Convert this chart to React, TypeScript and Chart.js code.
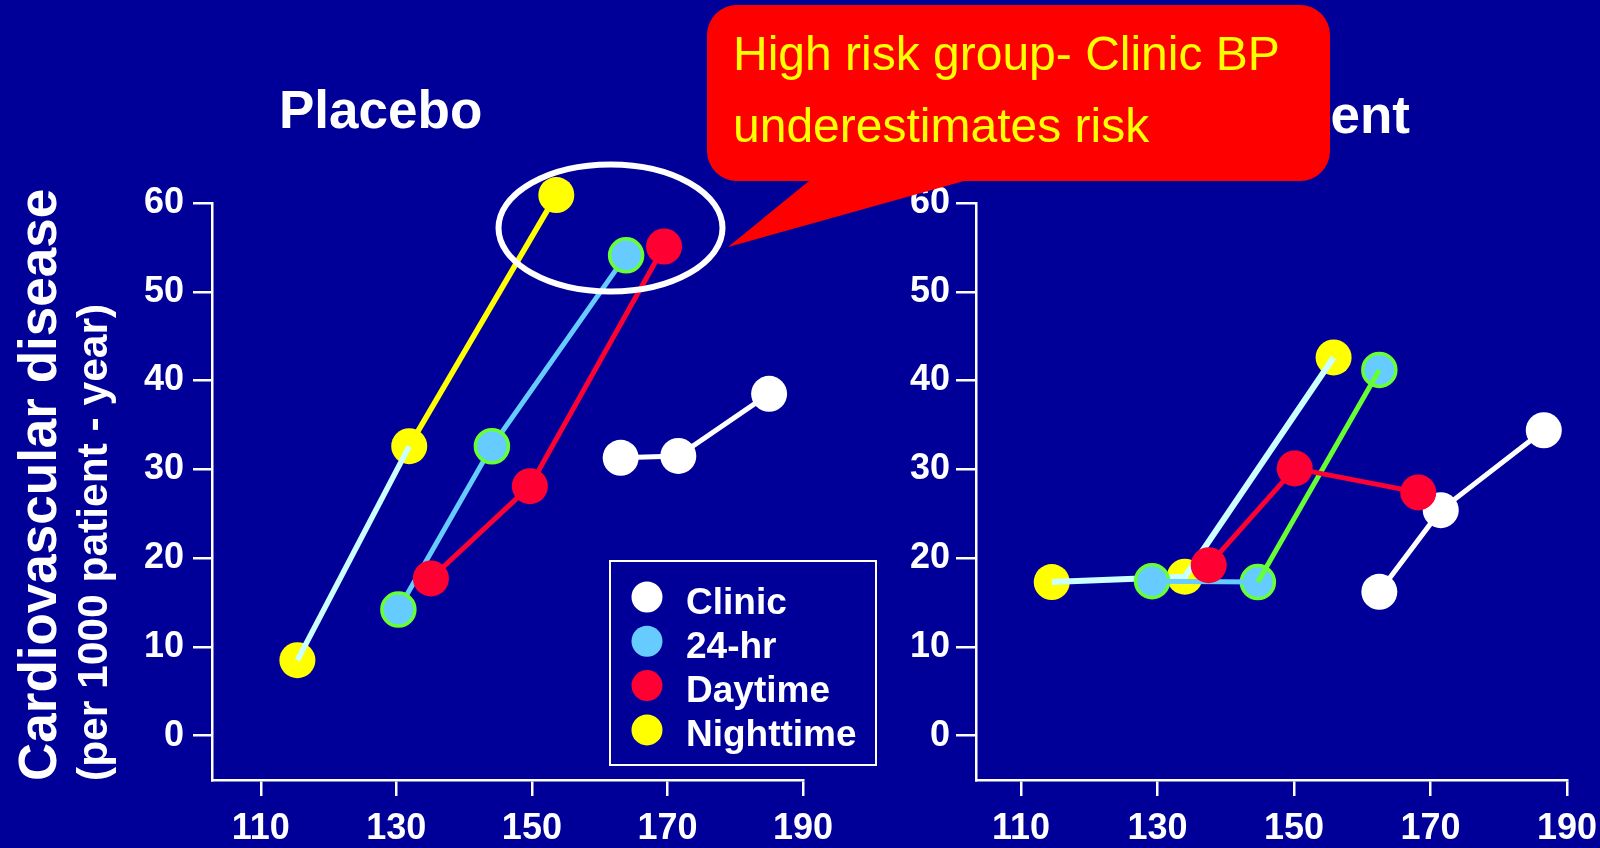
import { useEffect, useRef } from "react";
import { Chart, registerables } from "chart.js";

Chart.register(...registerables);

const FONT = "'Liberation Sans', Arial, Helvetica, sans-serif";
const BG = "#000099";

// Axis ticks (systolic pressure, mmHg / events per 1000 patient-years)
const xTickValues = [110, 130, 150, 170, 190];
const yTickValues = [0, 10, 20, 30, 40, 50, 60];

// Legend entries
const seriesNames = ["Clinic", "24-hr", "Daytime", "Nighttime"];
const seriesColors = ["#ffffff", "#66ccff", "#ff0033", "#ffff00"];

// Placebo group
const placeboClinicX = [163.1, 171.6, 185.0];
const placeboClinicY = [31.3, 31.5, 38.5];
const placebo24hX = [130.3, 144.1, 163.9];
const placebo24hY = [14.2, 32.6, 54.1];
const placeboDayX = [135.1, 149.7, 169.5];
const placeboDayY = [17.7, 28.1, 55.1];
const placeboNightX = [115.4, 131.9, 153.6];
const placeboNightY = [8.5, 32.6, 60.9];

// Active treatment group
const activeClinicX = [162.5, 171.5, 186.6];
const activeClinicY = [16.2, 25.4, 34.4];
const active24hX = [129.2, 144.7, 162.5];
const active24hY = [17.4, 17.3, 41.2];
const activeDayX = [137.5, 150.1, 168.2];
const activeDayY = [19.2, 30.1, 27.4];
const activeNightX = [114.5, 134.0, 155.8];
const activeNightY = [17.3, 17.9, 42.6];

// Per-segment line colours
const placeboNightSegments = ["#ccffff", "#ffff00"];
const placebo24hSegments = ["#66ccff", "#66ccff"];
const activeNightSegments = ["#ccffff", "#ccffff"];
const active24hSegments = ["#66ccff", "#66ff33"];

const GREEN_RING = "#66ff33";

type Pt = { x: number; y: number };
const toPoints = (xs: number[], ys: number[]): Pt[] => xs.map((x, i) => ({ x, y: ys[i] }));

function lineSet(xs: number[], ys: number[], segColors: string[], width: number) {
  return {
    data: toPoints(xs, ys),
    showLine: true,
    pointRadius: 0,
    pointHoverRadius: 0,
    borderColor: segColors[0],
    borderWidth: width,
    segment: { borderColor: (c: any) => segColors[c.p0DataIndex] },
    clip: false as any,
  };
}

function pointSet(xs: number[], ys: number[], fill: string, ring: string | null) {
  return {
    data: toPoints(xs, ys),
    showLine: false,
    pointRadius: ring ? 16.5 : 18,
    pointHoverRadius: ring ? 16.5 : 18,
    pointBackgroundColor: fill,
    pointBorderColor: ring || fill,
    pointBorderWidth: ring ? 3.5 : 0,
    clip: false as any,
  };
}

type PanelSpec = {
  datasets: any[];
  xMin: number;
  yAxisWidth: number;
  rightPad: number;
  yTickLength: number;
  yLabelPad: number;
};

function buildConfig(p: PanelSpec): any {
  const tickFont = { family: FONT, size: 36, weight: "bold" as const };
  return {
    type: "scatter",
    data: { datasets: p.datasets },
    options: {
      responsive: false,
      maintainAspectRatio: false,
      animation: false,
      events: [],
      layout: { padding: { left: 0, top: 203, right: p.rightPad, bottom: 0 } },
      plugins: { legend: { display: false }, tooltip: { enabled: false } },
      scales: {
        x: {
          type: "linear",
          min: p.xMin,
          max: 190,
          afterBuildTicks: (s: any) => {
            s.ticks = xTickValues.map((v) => ({ value: v }));
          },
          afterFit: (s: any) => {
            s.height = 68;
            s.paddingLeft = 0;
            s.paddingRight = 0;
          },
          grid: { drawOnChartArea: false, drawTicks: true, tickLength: 16, color: "#ffffff", lineWidth: 2.5 },
          border: { display: true, color: "#ffffff", width: 2.5 },
          ticks: { color: "#ffffff", font: tickFont, padding: 11, autoSkip: false, maxRotation: 0 },
        },
        y: {
          type: "linear",
          min: -5,
          max: 60,
          afterBuildTicks: (s: any) => {
            s.ticks = yTickValues.map((v) => ({ value: v }));
          },
          afterFit: (s: any) => {
            s.width = p.yAxisWidth;
            s.paddingTop = 0;
            s.paddingBottom = 0;
          },
          grid: { drawOnChartArea: false, drawTicks: true, tickLength: p.yTickLength, color: "#ffffff", lineWidth: 2.5 },
          border: { display: true, color: "#ffffff", width: 2.5 },
          ticks: { color: "#ffffff", font: tickFont, padding: p.yLabelPad, autoSkip: false },
        },
      },
    },
  };
}

// Earlier entries are painted on top
const placeboPanel: PanelSpec = {
  datasets: [
    pointSet(placeboDayX, placeboDayY, seriesColors[2], null),
    lineSet(placeboDayX, placeboDayY, [seriesColors[2], seriesColors[2]], 5),
    pointSet(placebo24hX, placebo24hY, seriesColors[1], GREEN_RING),
    lineSet(placebo24hX, placebo24hY, placebo24hSegments, 5),
    lineSet(placeboNightX, placeboNightY, placeboNightSegments, 5.5),
    pointSet(placeboNightX, placeboNightY, seriesColors[3], null),
    pointSet(placeboClinicX, placeboClinicY, seriesColors[0], null),
    lineSet(placeboClinicX, placeboClinicY, [seriesColors[0], seriesColors[0]], 5),
  ],
  xMin: 102.8,
  yAxisWidth: 212,
  rightPad: 77,
  yTickLength: 19,
  yLabelPad: 9,
};

const activePanel: PanelSpec = {
  datasets: [
    pointSet(activeDayX, activeDayY, seriesColors[2], null),
    lineSet(activeDayX, activeDayY, [seriesColors[2], seriesColors[2]], 5),
    lineSet(active24hX, active24hY, active24hSegments, 5),
    pointSet(active24hX, active24hY, seriesColors[1], GREEN_RING),
    lineSet(activeNightX, activeNightY, activeNightSegments, 6),
    pointSet(activeNightX, activeNightY, seriesColors[3], null),
    pointSet(activeClinicX, activeClinicY, seriesColors[0], null),
    lineSet(activeClinicX, activeClinicY, [seriesColors[0], seriesColors[0]], 5),
  ],
  xMin: 103.4,
  yAxisWidth: 156,
  rightPad: 33,
  yTickLength: 20,
  yLabelPad: 6,
};

function Panel({ left, width, spec }: { left: number; width: number; spec: PanelSpec }) {
  const ref = useRef<HTMLCanvasElement>(null);
  useEffect(() => {
    if (!ref.current) return;
    const chart = new Chart(ref.current, buildConfig(spec));
    return () => chart.destroy();
  }, [spec]);
  return (
    <canvas
      ref={ref}
      width={width}
      height={848}
      style={{ position: "absolute", left, top: 0, width, height: 848 }}
    />
  );
}

const calloutPath = [
  "M737,5 H1300 A30,30 0 0 1 1330,35 V151 A30,30 0 0 1 1300,181",
  "H964 L728,247 L809,181 H737 A30,30 0 0 1 707,151 V35 A30,30 0 0 1 737,5 Z",
].join(" ");

export default function App() {
  Chart.defaults.font.family = FONT;
  return (
    <div
      style={{
        position: "fixed",
        left: 0,
        top: 0,
        width: 1600,
        height: 848,
        overflow: "hidden",
        background: BG,
        fontFamily: FONT,
      }}
    >
      <Panel left={820} width={780} spec={activePanel} />
      <Panel left={0} width={880} spec={placeboPanel} />
      <svg
        width={1600}
        height={848}
        style={{ position: "absolute", left: 0, top: 0, pointerEvents: "none" }}
        fontFamily={FONT}
      >
        <text x={279} y={128} fill="#ffffff" fontWeight="bold" fontSize={53}>
          Placebo
        </text>
        <text x={1410} y={133} textAnchor="end" fill="#ffffff" fontWeight="bold" fontSize={53}>
          Active treatment
        </text>
        <text transform="translate(56,781) rotate(-90)" fill="#ffffff" fontWeight="bold" fontSize={53}>
          Cardiovascular disease
        </text>
        <text transform="translate(107,781) rotate(-90)" fill="#ffffff" fontWeight="bold" fontSize={42.5}>
          (per 1000 patient - year)
        </text>

        <ellipse cx={610.5} cy={228} rx={112} ry={63.5} fill="none" stroke="#ffffff" strokeWidth={6} />

        <rect x={610} y={561} width={266} height={204} fill="none" stroke="#ffffff" strokeWidth={2} />
        {seriesNames.map((name, i) => (
          <g key={name}>
            <circle cx={647} cy={597 + i * 44.3} r={15.5} fill={seriesColors[i]} />
            <text x={686} y={614 + i * 44} fill="#ffffff" fontWeight="bold" fontSize={37}>
              {name}
            </text>
          </g>
        ))}

        <path d={calloutPath} fill="#ff0000" />
        <text x={733} y={70} fill="#ffff00" fontSize={48}>
          High risk group- Clinic BP
        </text>
        <text x={733} y={142} fill="#ffff00" fontSize={48}>
          underestimates risk
        </text>
      </svg>
    </div>
  );
}
